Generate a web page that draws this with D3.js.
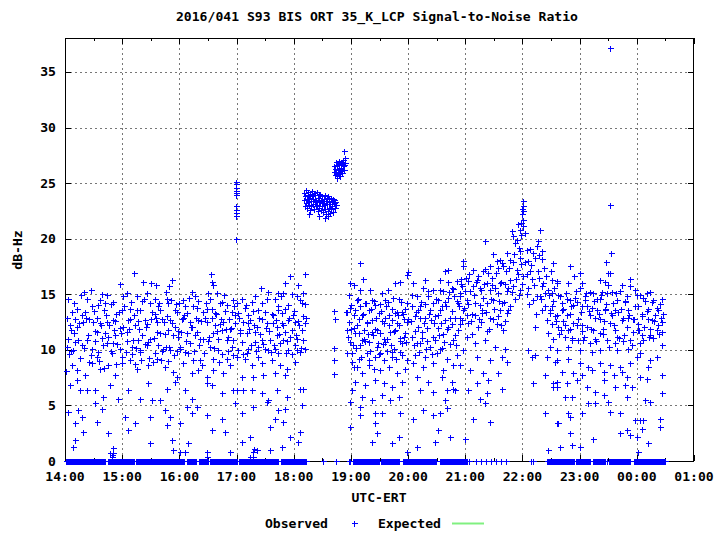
<!DOCTYPE html>
<html><head><meta charset="utf-8">
<script src="https://cdn.jsdelivr.net/npm/d3@7"></script>
<style>
body{margin:0;background:#fff}
svg{display:block}
text{font-family:"DejaVu Sans Mono","Liberation Mono",monospace;font-weight:bold;font-size:13.1px;fill:#000}
</style>
</head><body>
<svg id="chart" width="715" height="534"></svg>
<script>
// ---------- DATA (minutes after 14:00 UTC, SNR dB-Hz) ----------
const titleText = "2016/041 S93 BIS ORT 35_K_LCP Signal-to-Noise Ratio";
const xTickLabels = ["14:00","15:00","16:00","17:00","18:00","19:00","20:00","21:00","22:00","23:00","00:00","01:00"];
const yTickValues = [0,5,10,15,20,25,30,35];

// 14:00 - 17:00
const obsA = [[72.4,16.9],[82.2,16.1],[90,16],[96,15.8],[57.7,15.9],[19.9,15.2],[26.9,15.4],[108.7,15.7],[112,16.3],[152.8,16.8],[153.8,16.1],[155,15.8],
[22.7,14.6],[38.5,15],[43.7,14.9],[50.7,14.3],[64.7,15.1],[75.2,14.8],[85.7,15.1],[94.4,14.6],[105.9,15.2],[106.6,14.6],[123.4,14.5],[132.9,15.2],[136.4,14.8],[150.3,15.1],[159,15.1],[164.3,14.3],[176.6,14.5],[147.6,14.2],
[12.2,13.7],[21,13.4],[35,14],[42,14.2],[59.4,13.6],[68.2,13.7],[78.7,13.6],[89.2,14.2],[97.9,13.9],[108.4,14.2],[117.1,13.4],[125.9,13.9],[134.6,13.9],[145.1,13.4],[153.8,13.7],[162.6,14.2],[169.6,14],[174.8,13.4],
[5.2,12.2],[10.5,12.8],[19.2,12.5],[29.7,12.5],[37,12.4],[43.7,12.5],[50.7,12.7],[61.2,12.1],[68.2,12.8],[73.4,12.2],[83.9,12.7],[96.2,12.5],[101.4,12.8],[110.1,12.7],[115.4,12.1],[122.4,12.8],[131.1,12.5],[139.9,12.7],[148.6,12.5],[157.3,12.2],[166.1,12.5],[173.1,11.9],[178.3,12.4],
[3.5,11],[14,10.9],[24.5,11.3],[33.2,11.6],[42,11.5],[52.4,11.3],[64.7,11.6],[76.9,10.9],[80.4,11.3],[89.2,11],[99.7,11.5],[108.4,11.8],[118.9,11.2],[127.6,11.5],[138.1,11.6],[145.1,11],[155.6,11.5],[164.3,11.8],[171.3,11.2],
[1.7,10.3],[8.7,10],[17.5,10.4],[28,10.1],[35,9.8],[40.2,10.4],[49,9.7],[57.7,10.1],[69.9,10.3],[78.7,10],[85.7,10.4],[94.4,9.7],[103.1,10.1],[110.1,10],[120.6,10.3],[129.4,9.7],[134.6,9.1],[141.6,9.1],[152.1,10.3],[160.8,10],[169.6,9.2],[176.6,9.5],
[7,8.6],[12.2,8.2],[21,7.7],[28,8.8],[37,8.3],[45.5,8.6],[52.4,7.7],[59.4,8.8],[68.2,9.1],[75.2,8.3],[87.4,8.6],[96.2,9.2],[104.9,8.5],[113.6,8],[117.1,7.6],[124.1,8.8],[132.9,7.9],[139.9,8.2],[148.6,7.6],[155.6,8.2],[166.1,7.9],[173.1,8.6],
[5.2,6.8],[15.7,6.4],[22.7,6.4],[31.5,6.4],[40.2,5.8],[47.2,6.8],[56,5.6],[66.4,6.4],[78.7,5.6],[87.4,7],[90.9,5.5],[99.7,5.5],[106.6,6.5],[115.4,7.1],[125.9,6.4],[132.9,5.6],[148.6,7],[153.8,6.8],[164.3,6.1],[176.6,6.4],
[3.5,4.4],[14,4.6],[17.5,4],[10.5,3.4],[19.2,2.6],[31.5,5.2],[33.2,3.5],[38.5,4.7],[45.5,2.5],[63,4],[66.4,2.8],[73.4,3.4],[89.2,4],[104.9,4.6],[106.6,3.2],[110.1,4],[120.6,3.4],[127.6,4.9],[132.9,4.3],[138.1,4.9],[148.6,4.1],[153.8,2.8],[164.3,3.8],[167.8,2.6],[178.3,5.2],
[10.5,1.9],[8.7,1.3],[49,0.5],[47.2,0.7],[50.7,0.7],[89.2,1.6],[112,1.9],[113.6,1],[120.6,0.8],[125.9,0.8],[129.4,1.6],[173.1,0.8],[49.5,0.4],[50.5,1.2],[149,0.4],[149.5,0.8],
[2,12.9],[4,9.6],[6.5,11.8],[9,14.2],[11,10.7],[13,12.1],[16,9.3],[18,13.1],[23.5,10.9],[25,12.8],[27,9.5],[30,13.5],[32,10.8],[34,12.9],[36,9],[39,11.1],[41,13.6],[44,10.6],[46,12.2],[48,9.9],[51,11.8],[53,13.2],[55,10.5],[58,12],[60,9.4],[62,13.9],[65,10.8],[67,11.9],[70,9.6],[72,13.1],[74,10.2],[77,12.6],[79,9.8],[81,14.4],[84,10.5],[86,12.3],[88,9.3],[91,13.4],[93,11.1],[95,12.9],[98,10.4],[100,13.6],[102,9.9],[105,11.4],[107,13],[109,10.3],[112,12.4],[114,9.5],[116,14.1],[119,11.7],[121,10.1],[124,12.9],[126,9.8],[128,13.3],[131,10.6],[133,12.1],[136,11.3],[138,13.8],[141,10.4],[143,12.6],[146,9.7],[149,13.7],[151,11.2],[154,12.9],[156,10.2],[158,13.2],[161,11],[163,12.3],[165,9.6],[168,13.5],[170,10.9],[172,12.8],[175,10.3],[177,13.9],
[1,8.1],[2.8,14.6],[5.8,9.9],[7.6,13.4],[9.8,11.5],[12.8,7.3],[15,12.4],[17,14.9],[20,10.2],[22,12.9],[25.6,8.9],[28.8,13.9],[31,11.7],[33.8,9.4],[36.5,14.5],[38,12.2],[40.8,8.4],[43,13.1],[45,11.2],[47.8,14.1],[50,10.6],[52,12.6],[54,8.7],[56.5,13.4],[59,11.5],[61,14.8],[63.5,9.8],[66,12.7],[69,14.3],[71,10.9],[73,8.7],[76,13.6],[78,11.9],[80,9.1],[83,14.6],[85,12.1],[87,10.7],[90,12.8],[92,8.9],[94,13.2],[97,11.6],[99,14.2],[101,9.1],[104,12.5],[106,10.3],[108,9],[111,14.5],[113,11.3],[115,13.6],[118,9.9],[120,14.2],[122,11.6],[125,13.1],[127,10.8],[130,14.7],[132,12.1],[135,9.9],[137,12.9],[140,14.4],[142,11],[144,8.6],[147,12.9],[150,10.8],[152,14.6],[155,9.2],[157,13.3],[160,11.7],[162,8.9],[164,12.8],[167,14.9],[169,11.9],[171,9.9],[174,12],[176,10.9],[178,13.1]];

// 17:00 - 18:15 (incl. the short column above 20 at 17:00)
const obsB = [[179.4,25.1],[179.2,24.6],[179.4,24.3],[179.3,23.9],[179.4,22.9],[179.2,22.6],[179.5,22.3],[179.4,22],[179.6,20],[179.1,24.9],[179.6,24.1],
[236,16.6],[230.9,16],[251.9,16.8],[244.9,15.8],[223.9,15.1],[229,15.1],[237.9,15],[199.4,14.8],[185.4,14.6],[206.4,14.2],[220.4,14.6],[246.7,14.5],[248.4,14.2],
[181.9,13.3],[192.4,13.1],[209.9,13.4],[218.6,13.1],[227.4,13.3],[234.4,12.7],[241.4,12.5],[250.2,13],[251.9,12.4],[187.1,12.5],[194.2,12.7],[201.2,12.1],[211.7,12.4],[222.2,12.1],[230.9,11.6],[237.9,11.8],
[183.6,11.8],[190.6,11.5],[199.4,10.7],[206.4,10.9],[215.1,10.9],[222.2,11.3],[229.2,10.9],[243.2,11],[250.2,10.9],[181.9,10],[192.4,10.1],[202.9,10.3],[213.4,10],[223.9,9.7],[234.4,10],[243.2,10],[251.9,10.1],
[180.1,9.4],[188.9,9.2],[195.9,8.6],[206.4,8.8],[216.9,9.1],[225.7,8.6],[232.7,8.3],[241.4,8.9],[185.4,7.6],[197.6,7.6],[208.1,7.7],[220.4,7.9],[230.9,7.7],
[180.1,6.4],[187.1,6.4],[195.9,6.4],[206.4,6.1],[213.4,5.5],[222.2,6.4],[232.7,5.8],[246.7,6.5],[250.2,6.5],[197.6,4.9],[211.7,5.3],[223.9,4.6],[230.9,4.7],[248.4,5],[185.4,4.3],
[215.1,3.1],[220.4,3.8],[229.2,3.5],[246.7,2.6],[236.2,2.2],[194.2,2.2],[185.4,1.7],[244.9,1.7],[201.2,1],[215.1,1],[227.4,1.3],[194.2,0.4],[197,0.4],[197.5,0.8],[198,1.1],
[183,12.9],[186,10.7],[189,13.8],[191,9.7],[193,11.9],[196,14.3],[198,12.2],[200,9.9],[203,13.6],[205,11.4],[207,12.8],[210,10.1],[212,14.6],[214,11.7],[217,13.2],[219,10.4],[221,12.7],[224,13.9],[226,10.6],[228,12.4],[231,13.7],[233,10.8],[235,12.9],[238,9.6],[240,13.5],[242,11.3],[245,12.6],[247,9.8],[249,11.8],[252,14.1],
[181,14.2],[184,11.5],[187,9.6],[190,14],[192,12.4],[195,10.4],[197,13.5],[199,11.6],[202,9.4],[204,12.9],[206,15.6],[208,10.5],[211,12],[213,15.2],[216,9.8],[218,12.4],[220,10.1],[223,13.6],[225,11.4],[227,14.8],[229,12.2],[232,9.7],[234,14],[236,11.2],[239,13.1],[241,10.4],[243,14.8],[246,12.2],[248,10.2],[250,15.1],[252.5,12.9]];

// 18:10 - 18:58 : the two elevated clusters and sparse points
const obsC = [[250.5,23.5],[251,24.1],[251.5,22.9],[252,23.8],[252.5,23.2],[253,24.4],[253.5,23.6],[254,22.8],[254.5,23.9],[255,23.3],[255.5,24.2],[256,23],[256.5,23.7],[257,22.6],[257.5,24],[258,23.4],[258.5,22.9],[259,23.8],[259.5,24.3],[260,23.1],[260.5,23.6],[261,22.7],[261.5,24.1],[262,23.3],[262.5,23.9],[263,22.9],[263.5,23.5],[264,24.2],[264.5,23],[265,23.7],[265.5,22.5],[266,23.4],[266.5,24],[267,22.8],
[267.5,23.3],[268,23.9],[268.5,22.6],[269,23.5],[269.5,22.9],[270,23.8],[270.5,23.2],[271,22.4],[271.5,23.6],[272,23],[272.5,23.9],[273,22.7],[273.5,23.4],[274,22.2],[274.5,23.7],[275,23.1],[275.5,22.5],[276,23.8],[276.5,23.3],[277,22.8],[277.5,23.6],[278,22.3],[278.5,23.1],[279,23.7],[279.5,22.7],[280,23.4],[280.5,22.9],[281,23.6],[281.5,22.4],[282,23.2],[282.5,23.5],[283,22.8],[283.5,23.3],[284,23],
[256,22.2],[266,22],[273,21.9],[276,22],
[282,26],[282.5,26.5],[283,25.7],[283.5,26.3],[284,26.9],[284.5,25.9],[285,26.6],[285.5,25.5],[286,26.2],[286.5,26.8],[287,25.8],[287.5,26.4],[288,27],[288.5,26.1],[289,25.6],[289.5,26.7],[290,26.3],[290.5,25.9],[291,26.9],[291.5,26.5],[292,27.1],[292.5,26.2],[293,26.6],[293.5,27.3],[294,26.8],[292.8,27.9],
[282.3,13.5],[283.4,12.8],[282,10.2],[282.7,9.1],[282.7,7.8],[294.6,13.4]];

// 18:55 - 20:00
const obsD = [[309.5,17.8],[312.9,16.4],[303.5,15.8],[298.9,16],[309.5,15.4],[320,15.4],[321.8,14.5],[332.3,15.1],[339.3,15.4],[346.3,16],[351.6,16.1],[358.6,16.7],[360.3,17],
[300.6,14],[305.9,14.5],[314.6,14.2],[325.1,14],[335.6,14.5],[342.6,13.7],[353.1,13.4],[295.8,13.4],[302.8,13.1],[311.6,13.1],[318.6,13.6],[329.1,13.3],[339.6,13.1],[348.3,13.4],[357.1,13.7],
[297.6,12.5],[306.3,12.2],[316.8,12.5],[325.6,11.9],[334.3,12.4],[343.1,12.7],[350.1,12.2],[358.8,12.5],[295.8,11.8],[304.6,11.5],[313.3,11],[322.1,11.6],[330.8,11.5],[337.8,11],[346.5,11.8],[355.3,11.2],
[299.3,10.7],[309.8,10.4],[318.6,10.7],[327.3,10.3],[336.1,10.7],[344.8,10.1],[353.6,10.6],[301.1,9.7],[308.1,9.2],[316.8,9.7],[325.6,9.4],[334.3,9.1],[343.1,9.4],[351.8,9.8],[358.8,9.1],
[302.8,8.5],[311.6,7.9],[318.6,8.6],[330.8,8.2],[339.6,8.5],[348.3,7.9],[357.1,8.3],[304.6,7.1],[315.1,6.8],[325.6,7.3],[334.3,7],[343.1,6.7],[353.6,7.1],
[301.1,6.4],[311.6,5.8],[322.1,5.5],[332.6,5.9],[341.3,5.5],[350.1,5.8],[299.3,5.3],[309.8,4.9],[309.8,4.1],[325.6,4.3],[332.6,4.3],[351.6,4.3],[299.3,3.1],[325.6,3.4],[327.3,2.5],[322.1,1.7],[343.1,1.6],[350.1,2.2],[358.8,0.8],
[297,11.2],[299,13.8],[301,8.9],[303,12],[305,10.2],[307,14.6],[309,11.5],[311,9.4],[313,13.2],[315,10.8],[317,12.4],[319,9.1],[321,13.7],[323,11.3],[324,8.3],[326,12.9],[328,10.6],[330,14.1],[331,9.7],[333,12.6],[335,11],[337,13.9],[338,9.9],[340,12.2],[342,10.4],[344,14.7],[345,11.7],[347,9.2],[349,13.1],[351,11.1],[353,14.3],[354,9.5],[356,12.8],[358,10.7],[359,14.2],
[296,9.7],[298,14.9],[300,11.9],[302,10.4],[304,13.6],[306,8.5],[308,12.8],[310,13.9],[312,10.9],[314,11.8],[316,14.2],[318,11.4],[320,9.9],[322,12.7],[324,14.4],[327,11.8],[329,9.6],[332,13.5],[334,10.5],[336,12.9],[339,14.3],[341,11.6],[343,9.8],[346,13.3],[348,12.4],[350,14.6],[352,10.8],[355,13.2],[357,11.5],[360,12.8]];

// 20:00 - 22:00 (rising to the spike just before 22:00)
const obsE = [[480.3,23.4],[480.3,22.9],[481,22.5],[479.6,22.2],[481,21.7],[478.2,21.4],[475.7,21.3],[477.5,20.8],[468.7,20.7],[470.5,20.2],[482.8,20.5],[474,19.9],
[449.5,18.6],[453,18],[456.5,18.1],[446,17.5],[460,17.5],[440.8,19.8],[463.5,18.7],[467,18.1],[477.5,18.3],[474,17.2],[467,16.3],[470.5,15.7],[477.5,15.4],
[418,18],[418,17.5],[428.5,17.2],[439,17.1],[447.8,16.5],[423.3,16.2],[432,16.3],[442.5,16],[456.5,16],[416.3,15.7],[425,15.3],[435.5,15.6],[446,15.4],[454.8,15.1],[463.5,15.3],[411,16.2],
[414.5,14.8],[421.5,14.5],[430.3,14.2],[439,14.7],[449.5,14.5],[458.3,14.2],[465.3,13.6],[418,13.6],[426.8,13.2],[437.3,13.3],[446,12.9],[454.8,13],[461.8,12.6],[414.5,12.9],[423.3,12.4],[433.8,12.1],[442.5,11.7],[453,12.3],[460,11.8],
[421.5,11.2],[430.3,10.6],[440.8,10.9],[451.3,10.3],[461.8,10.1],[418,10],[432,9.4],[446,9.1],[458.3,9.4],[463.5,8.9],[414.5,8.6],[425,8.2],[439,7.9],[444.3,7.3],[454.8,7.9],[432,7],[423.3,6.4],[442.5,6.1],[458.3,6.5],[435.5,5.6],[428.5,3.8],[446,3.5],[419.8,2],[409.3,6.4],[440.8,5.2],
[398.8,17.1],[402.3,17.2],[393.5,16.3],[377.8,16.3],[365.5,16],[376,15.6],[386.5,15.4],[397,15.3],[405.8,15.6],[414.5,15.1],[369,14.8],[381.3,14.8],[391.8,14.5],[402.3,14.7],[411,14.4],
[363.8,13.9],[372.5,13.9],[383,13.6],[395.3,13.9],[405.8,13.5],[367.3,13],[377.8,12.9],[388.3,13],[398.8,12.7],[409.3,12.9],[370.8,12.1],[379.5,12],[391.8,12],[402.3,12.1],[412.8,11.8],
[363.8,11.2],[374.3,11.1],[386.5,11.2],[397,11.4],[407.5,10.9],[369,10.6],[383,10.3],[393.5,10.1],[404,10.5],[367.3,9.5],[377.8,9.4],[390,9.7],[400.5,9.2],[411,9.5],
[365.5,8.8],[376,8.5],[386.5,8.8],[397,8.2],[407.5,8.6],[369,7.6],[381.3,7.1],[395.3,7.6],[405.8,7.1],[372.5,6.4],[386.5,6.2],[400.5,6.4],[407.5,6.5],
[376,4.6],[386.5,4.1],[393.5,4.3],[398.8,5.5],[400.5,4.8],[365.5,3.8],[391.8,2.8],[404,2.2],[388.3,1.7],[369,1.3],
[363,12.6],[366,10.4],[368,13.4],[371,9.8],[373,12.9],[375,11.6],[378,14.1],[380,10.8],[382,13.2],[385,9.6],[387,12.4],[389,14.6],[392,11.3],[394,13.6],[396,10.2],[399,14.3],[401,11.9],[403,15.2],[406,12.3],[408,14.8],[410,10.4],[413,13.9],[415,16.4],[417,12.7],[420,15.3],[422,13.1],[424,16.8],[427,11.4],[429,14.9],[431,16.1],[434,12.8],[436,15.4],[438,13.6],[441,17.3],[443,14.2],[445,11.9],[448,15.8],[450,13.7],[452,16.9],[455,14.4],[457,12.2],[459,17.8],[462,15.9],[464,13.3],[466,17.4],[469,15.2],[471,18.6],[473,16.4],[476,14.9],[478,17.7],
[364,14.9],[367,11.7],[370,13.6],[372,10.6],[374,14.3],[377,12.4],[379,10.1],[381,15.3],[384,12.7],[386,14.2],[388,10.9],[391,13.1],[393,15.4],[395,12.4],[398,10.7],[400,13.9],[402,16.1],[404,12.9],[407,15.5],[409,11.3],[412,14.2],[414,12.3],[416,15.9],[419,13.8],[421,16.5],[423,14.1],[426,12.6],[428,15.7],[430,13.1],[433,16.6],[435,14],[437,12.5],[440,15.9],[442,13.4],[444,16.9],[447,14.6],[449,12.8],[451,15.6],[454,17.4],[456,13.6],[458,16.1],[461,14.3],[463,17.1],[465,15.6],[467,13.9],[470,17.9],[472,14.6],[475,16.8],[477,18.9],[479,15.9],[476.5,19.2],[472.5,19.6],[478.8,20.3],[480.8,21.1],[479.2,22.7]];

// 22:00 - 00:30
const obsF = [[498.5,20.8],[496.8,19.8],[495,19.3],[491.5,18.7],[500.3,18.9],[484.5,19],[486.3,18],[481,16.6],[488,17.1],[496.8,17.1],[502,16],[507.3,15.4],[510.8,16.3],[516,16.2],
[484.5,15],[491.5,14.5],[498.5,14.8],[503.8,13.9],[509,13.6],[514.3,13],[510.8,15.1],[500.3,13.6],[493.3,12.1],[507.3,11.5],
[486.3,10],[493.3,9.5],[489.8,9.4],[509,10.3],[505.5,9.4],[516,9.1],[503.8,7.7],[512.5,7],[516,6.7],[491.5,7],[503.8,4.3],[516,3.4],[507.3,1],
[571.9,37.2],[571.9,23],
[572.6,18.7],[567.7,17.9],[530,17.5],[534.1,16.6],[540.4,16.9],[542.2,16],[515.9,16],[512.4,17.8],[528.2,16],[570.2,16.9],[571.9,16.9],[561.4,16.3],[566.7,16.1],[584.2,15.8],[592.9,16.4],[598.2,15.4],
[551.2,15.2],[554.4,15.1],[568.4,15.1],[573.7,15.2],[519.4,14.8],[529.9,14.5],[536.9,14.3],[545.7,14.5],[561.4,14.6],[578.9,14.5],[587.7,14.3],[603.4,14.9],[610.4,15.1],[617.4,14.5],
[510.7,13.9],[522.9,13.7],[533.4,14],[547.4,13.9],[557.9,13.6],[566.7,13.7],[577.2,13.6],[591.2,13.6],[601.7,13.9],[612.2,13.7],[622.7,13.6],
[514.2,13],[526.4,13.1],[538.7,12.8],[551.2,13.1],[561.4,12.8],[573.7,13.1],[584.2,12.7],[596.4,12.8],[605.2,13],[615.7,12.7],[626.2,12.5],
[517.7,12.1],[529.9,11.9],[542.2,12.2],[554.4,11.8],[564.9,11.9],[577.2,11.8],[589.4,12.1],[601.7,11.8],[614,11.9],[621,11.8],
[512.4,11],[524.7,11.2],[531.7,11.1],[543.9,10.9],[556.2,11],[568.4,10.9],[578.9,11.2],[592.9,10.9],[605.2,11.3],[614,11.3],[626.2,10.4],
[515.9,10],[528.2,10.3],[540.4,10],[552.7,9.8],[561.4,10],[578.9,10],[591.2,10.1],[600,9.4],[603.4,9.7],
[514.2,8.9],[528.2,9.2],[540.4,8.8],[549.2,8.5],[561.4,8.8],[571.9,8.6],[582.4,8.5],[592.9,8.8],[614,9.1],[621,9.4],[612.2,8.5],
[521.2,8],[533.4,7.9],[542.2,7.7],[552.7,8.2],[565.2,8],[575.7,7.7],[584.2,8],[589.4,7.6],[603.4,7.6],[610.4,7.4],[626.9,7.7],
[515.9,7.1],[526.4,7],[536.9,7.3],[547.4,6.7],[556.2,6.2],[565.2,7.3],[577.4,6.7],[587.7,6.8],[594.7,6.7],[512.4,6.7],
[524.7,5.8],[531.7,5.8],[565.2,5.9],[589.4,5.8],[614,5.3],[608.7,5.5],[626.2,6.1],[549.2,5.2],[556.2,5.2],[570.2,5.3],
[571.9,4.4],[582.4,4.3],[528.2,4.3],[529.9,4],[542.2,4.3],[598,3.7],[603.4,3.7],[606.9,3.7],[605.2,2.9],[624.5,3.8],[624.5,3.1],[517.7,3.4],
[529.9,2.5],[554.4,2],[582.4,2.5],[589.4,2.8],[592.9,2.3],[599.9,2.2],[612.2,1.6],[519.4,1.3],[531.7,1.4],[540.4,1.3],[601.7,0.8],
[485,16.8],[487,14.1],[489,17.6],[492,15.8],[494,13.2],[497,16.5],[499,14.6],[501,18.2],[504,15.1],[506,12.7],[508,14.9],[511,12.3],[513,15.6],[516,13.1],[518,11.4],[521,14.2],[523,12.6],[526,15.1],[528,11.8],[531,13.9],[533,12.4],[536,15.3],[538,10.9],[541,13.4],[543,11.7],[546,14.8],[548,12.1],[551,10.6],[553,13.8],[556,12.9],[558,14.6],[561,11.5],[563,15.2],[566,12.6],[568,14.1],[571,10.3],[573,13.3],[576,12.2],[578,15.1],[581,11.1],[583,13.7],[586,10.8],[588,14.4],[591,12.9],[593,15.7],[596,11.6],[598,13.9],[601,12.3],[603,10.6],[606,14.7],[608,12.1],[611,13.5],[613,11.2],[616,14.3],[618,12.6],[621,13.8],[623,11.4],[625,12.9],[626.5,14.6],[627,13.2],
[483,17.9],[486,15.6],[488,19.1],[490,16.4],[493,18.3],[495,14.8],[497.5,18.5],[500,15.7],[502.5,17.4],[505,16.6],[508.5,13.3],[510,17.1],[512,14.4],[515,12.6],[517,14.9],[520,11.8],[522,13.6],[525,12.2],[527,14.6],[530,13.2],[532,10.9],[535,14.7],[537,12.2],[540,15.6],[542,13.9],[545,11.2],[547,15.1],[550,13.5],[552,11.9],[555,14.4],[557,10.8],[560,13.2],[562,14.9],[565,11.4],[567,13.6],[570,15.8],[572,12.4],[575,14.2],[577,10.6],[580,13.4],[582,15.3],[585,12.9],[587,11.3],[590,14.8],[592,13.1],[595,10.4],[597,12.8],[600,14.9],[602,11.8],[605,13.2],[607,10.9],[609,14.4],[612,12.8],[614,15.2],[617,11.1],[619,13.1],[622,12.2],[624,14.1],[626,11.6]];

// sample times whose SNR is reported as 0
const zeroTimes = [1,2,3,4,5,6,7,8,9,10,11,12,13,14,15,16,17,18,19,20,21,22,23,24,25,26,27,28,29,30,31,32,33,34,35,36,37,38,39,40,41,42,
45,46,47,48,49,50,51,52,53,54,55,56,57,58,59,60,61,62,63,64,65,66,67,68,69,70,71,72,
75,76,77,78,79,80,81,82,83,84,85,86,87,88,89,90,91,92,93,94,95,96,97,98,99,100,101,102,103,104,105,106,107,108,109,110,111,112,113,114,115,116,117,118,119,120,121,122,123,124,125,
128,129,130,131,132,133,134,135,136,137,
141,142,143,144,145,146,147,148,149,150,
152,153,154,155,156,157,158,159,160,161,162,163,164,165,166,167,168,169,170,171,172,173,174,175,176,177,178,179,180,
183,184,185,186,187,188,189,190,191,192,193,194,195,196,197,198,199,200,201,202,203,204,205,206,207,208,209,210,211,212,213,214,215,216,217,218,219,220,221,222,223,224,
227,228,229,230,231,232,233,234,235,236,237,238,239,240,241,242,243,244,245,246,247,248,249,250,251,252,253,
271,284.5,298,299.5,
302,303,304,305,306,307,308,309,310,311,312,313,314,315,316,317,318,319,320,321,322,323,324,325,326,327,328,329,
332,333,334,335,336,337,338,339,340,341,342,343,344,345,346,347,348,349,350,
355,356,357,358,359,360,361,362,363,364,365,366,367,368,369,370,371,372,373,374,375,376,377,378,379,380,381,382,383,384,385,386,387,388,389,
393,394,395,396,397,398,399,400,401,402,403,404,405,406,407,408,409,410,411,412,413,414,415,416,417,418,419,420,421,422,
424.3,431,436.4,442,446.5,452.1,457.4,462.6,488.7,490.8,
506,507,508,509,510,511,512,513,514,515,516,517,518,519,520,521,522,523,524,525,526,527,528,529,530,531,532,533,534,
536,537,538,539,540,541,542,543,544,545,546,547,548,549,550,551,
554,555,556,557,558,559,560,561,562,563,564,565,566,567,569,
571,572,573,574,575,576,577,578,579,580,581,582,583,584,585,586,587,588,589,590,591,592,593,
597,598,599,600,601,602,603,604,605,606,607,608,609,610,611,612,613,614,615,616,617,618,619,620,621,622,623,624,625,626,627,628,629,630];

const expected = []; // no expected values drawn in this plot

// ---------- CHART ----------
const svg = d3.select("#chart");
const L = 65, R = 694, T = 37.5, B = 461;
const x = d3.scaleLinear().domain([0, 660]).range([L, R]);
const y = d3.scaleLinear().domain([0, 38.1]).range([B, T]);

svg.append("rect").attr("width",715).attr("height",534).attr("fill","#fff");

// grid
const g = svg.append("g").attr("stroke","#777").attr("stroke-width",1).attr("stroke-dasharray","2,3").attr("shape-rendering","crispEdges");
const hourTicks = d3.range(0, 661, 60);
hourTicks.filter(m => m > 0 && m < 660).forEach(m => {
  const px = Math.round(x(m)) + 0.5;
  g.append("line").attr("x1",px).attr("x2",px).attr("y1",T).attr("y2",B);
});
yTickValues.filter(v => v > 0).forEach(v => {
  const py = Math.round(y(v)) + 0.5;
  g.append("line").attr("x1",L).attr("x2",R).attr("y1",py).attr("y2",py);
});

// ticks
const tk = svg.append("g").attr("stroke","#000").attr("stroke-width",1).attr("shape-rendering","crispEdges");
hourTicks.forEach(m => {
  const px = Math.round(x(m)) + 0.5;
  tk.append("line").attr("x1",px).attr("x2",px).attr("y1",B).attr("y2",B-6);
  tk.append("line").attr("x1",px).attr("x2",px).attr("y1",T).attr("y2",T+6);
});
d3.range(30, 660, 60).forEach(m => {
  const px = Math.round(x(m)) + 0.5;
  tk.append("line").attr("x1",px).attr("x2",px).attr("y1",B).attr("y2",B-3);
  tk.append("line").attr("x1",px).attr("x2",px).attr("y1",T).attr("y2",T+3);
});
yTickValues.forEach(v => {
  const py = Math.round(y(v)) + 0.5;
  tk.append("line").attr("x1",L).attr("x2",L+6).attr("y1",py).attr("y2",py);
  tk.append("line").attr("x1",R).attr("x2",R-6).attr("y1",py).attr("y2",py);
});

// border (drawn before the points, so points lying on it stay visible)
svg.append("rect").attr("x",L+0.5).attr("y",T+0.5).attr("width",R-L-1).attr("height",B-T-0.5)
  .attr("fill","none").attr("stroke","#000").attr("stroke-width",1).attr("shape-rendering","crispEdges");

// points
const allObs = [].concat(obsA, obsB, obsC, obsD, obsE, obsF, zeroTimes.map(t => [t, 0]));
const plus = d => {
  const cx = Math.round(x(d[0])) + 0.5, cy = Math.round(y(d[1])) + 0.5;
  return `M${cx-3},${cy}H${cx+3}M${cx},${cy-3}V${cy+3}`;
};
svg.append("path").attr("d", allObs.map(plus).join(""))
  .attr("stroke","#0000ff").attr("stroke-width",1).attr("fill","none").attr("shape-rendering","crispEdges");

// expected line (empty)
svg.append("path").datum(expected)
  .attr("d", d3.line().x(d => x(d[0])).y(d => y(d[1])))
  .attr("stroke","#80f080").attr("stroke-width",2).attr("fill","none");

// tick labels
svg.append("g").selectAll("text").data(hourTicks).join("text")
  .attr("x", m => x(m)).attr("y", 481).attr("text-anchor","middle")
  .text((m,i) => xTickLabels[i]);
svg.append("g").selectAll("text").data(yTickValues).join("text")
  .attr("x", 56).attr("y", v => y(v) + 4.5).attr("text-anchor","end")
  .text(v => v);

// titles
svg.append("text").attr("x",377).attr("y",21).attr("text-anchor","middle").text(titleText);
svg.append("text").attr("x",379).attr("y",502).attr("text-anchor","middle").text("UTC-ERT");
svg.append("text").attr("transform","translate(22,250) rotate(-90)").attr("text-anchor","middle").text("dB-Hz");

// legend
svg.append("text").attr("x",328).attr("y",528).attr("text-anchor","end").text("Observed");
svg.append("path").attr("d", plus([x.invert(354.2), y.invert(523.2)])).attr("stroke","#0000ff").attr("fill","none").attr("shape-rendering","crispEdges");
svg.append("text").attr("x",441).attr("y",528).attr("text-anchor","end").text("Expected");
svg.append("line").attr("x1",452).attr("x2",484).attr("y1",523.5).attr("y2",523.5).attr("stroke","#80f080").attr("stroke-width",2);
</script>
</body></html>
